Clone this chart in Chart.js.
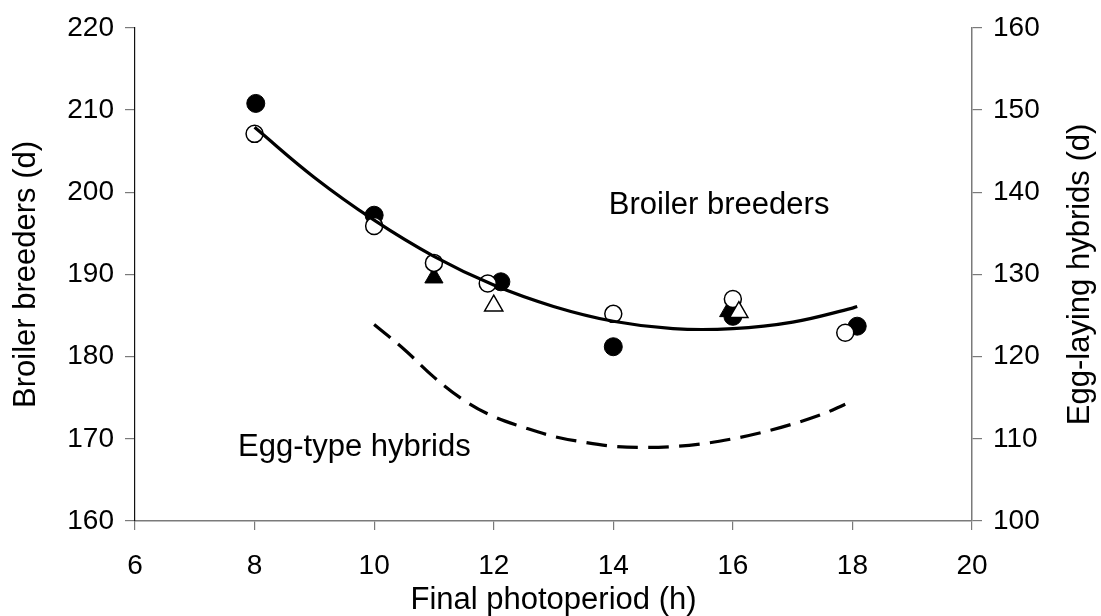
<!DOCTYPE html>
<html>
<head>
<meta charset="utf-8">
<script src="https://cdn.jsdelivr.net/npm/chart.js@4.4.1/dist/chart.umd.min.js"></script>
<style>
    html, body { margin: 0; padding: 0; background: #fff; }
    #wrap { width: 1101px; height: 616px; position: relative; }
</style>
</head>
<body>
<div id="wrap"><canvas id="photoChart"></canvas></div>
<script>
// age at sexual maturity vs final photoperiod
const xTicks = [6, 8, 10, 12, 14, 16, 18, 20];
const leftTicks = [160, 170, 180, 190, 200, 210, 220];
const rightTicks = [100, 110, 120, 130, 140, 150, 160];

// broiler breeders, observed means (left axis)
const filledCircleX = [8.02, 10.0, 12.12, 14.0, 16.0, 18.08];
const filledCircleY = [210.8, 197.2, 189.1, 181.2, 184.9, 183.7];
const openCircleX = [8.0, 10.0, 11.0, 11.9, 14.0, 16.0, 17.88];
const openCircleY = [207.1, 195.9, 191.4, 188.9, 185.2, 187.0, 182.9];
const filledTriX = [11.0, 15.93];
const filledTriY = [189.6, 185.5];
const openTriX = [12.0, 16.1];
const openTriY = [186.2, 185.4];

// fitted response curves
const broilerCurveX = [8.0, 9, 10, 11, 12, 13, 14, 15, 16, 17, 18, 18.08];
const broilerCurveY = [207.9, 201.8, 196.6, 192.2, 188.7, 186.1, 184.3, 183.4, 183.4, 184.2, 185.9, 186.1];
const eggCurveX = [10.0, 10.5, 11, 11.5, 12, 12.5, 13, 13.5, 14, 14.5, 15, 15.5, 16, 16.5, 17, 17.5, 17.88];
const eggCurveY = [123.9, 120.9, 117.5, 114.7, 112.7, 111.4, 110.3, 109.6, 109.1, 108.95, 109.05, 109.4, 110.0, 110.8, 111.8, 113.0, 114.2];

const FONT = "'Liberation Sans', Arial, Helvetica, sans-serif";
const W = 1101, H = 616;
const AREA = { left: 135, right: 972, top: 27, bottom: 521 };

function pts(xs, ys) {
    return xs.map((x, i) => ({ x: x, y: ys[i] }));
}

// free text labels next to the curves + right axis title (reads bottom to top)
const curveLabels = {
    id: 'curveLabels',
    afterDraw(chart) {
        const { ctx, scales, chartArea } = chart;
        ctx.save();
        ctx.fillStyle = '#000';
        ctx.font = `31px ${FONT}`;
        ctx.textAlign = 'center';
        ctx.textBaseline = 'middle';
        ctx.fillText('Broiler breeders', scales.x.getPixelForValue(15.77), scales.y.getPixelForValue(198.4));
        ctx.fillText('Egg-type hybrids', scales.x.getPixelForValue(9.67), scales.y.getPixelForValue(168.9));

        ctx.translate(1080, (chartArea.top + chartArea.bottom) / 2);
        ctx.rotate(-Math.PI / 2);
        ctx.fillText('Egg-laying hybrids (d)', 0, 0);
        ctx.restore();
    }
};

const tickFont = { family: FONT, size: 28 };
const titleFont = { family: FONT, size: 31, lineHeight: 1 };

new Chart(document.getElementById('photoChart'), {
    type: 'scatter',
    data: {
        datasets: [
            {
                label: 'broiler fit',
                data: pts(broilerCurveX, broilerCurveY),
                yAxisID: 'y',
                showLine: true,
                borderColor: '#000',
                borderWidth: 3.2,
                pointRadius: 0,
                tension: 0.4,
                order: 0
            },
            {
                label: 'egg-type fit',
                data: pts(eggCurveX, eggCurveY),
                yAxisID: 'y2',
                showLine: true,
                borderColor: '#000',
                borderWidth: 3.2,
                borderDash: [21, 10],
                pointRadius: 0,
                tension: 0.4,
                order: 0
            },
            {
                label: 'open triangles',
                data: pts(openTriX, openTriY),
                yAxisID: 'y',
                pointStyle: 'triangle',
                pointRadius: 10.5,
                backgroundColor: '#fff',
                borderColor: '#000',
                borderWidth: 1.5,
                order: 1
            },
            {
                label: 'open circles',
                data: pts(openCircleX, openCircleY),
                yAxisID: 'y',
                pointStyle: 'circle',
                pointRadius: 8.5,
                backgroundColor: '#fff',
                borderColor: '#000',
                borderWidth: 1.5,
                order: 2
            },
            {
                label: 'filled triangles',
                data: pts(filledTriX, filledTriY),
                yAxisID: 'y',
                pointStyle: 'triangle',
                pointRadius: 10.5,
                backgroundColor: '#000',
                borderColor: '#000',
                borderWidth: 1,
                order: 3
            },
            {
                label: 'filled circles',
                data: pts(filledCircleX, filledCircleY),
                yAxisID: 'y',
                pointStyle: 'circle',
                pointRadius: 9,
                backgroundColor: '#000',
                borderColor: '#000',
                borderWidth: 1,
                order: 4
            }
        ]
    },
    options: {
        responsive: true,
        maintainAspectRatio: false,
        animation: false,
        events: [],
        layout: { padding: { top: AREA.top, left: 0, right: 0, bottom: 0 } },
        plugins: {
            legend: { display: false },
            tooltip: { enabled: false }
        },
        scales: {
            x: {
                type: 'linear',
                min: xTicks[0],
                max: xTicks[xTicks.length - 1],
                afterBuildTicks: (s) => { s.ticks = xTicks.map(v => ({ value: v })); },
                afterFit: (s) => { s.height = H - AREA.bottom; },
                border: { display: true, color: '#7a7a7a', width: 1.5 },
                grid: { drawOnChartArea: false, drawTicks: true, tickLength: 9, color: '#7a7a7a', lineWidth: 1.2 },
                ticks: { color: '#000', font: tickFont, padding: 19, maxRotation: 0 },
                title: { display: true, text: 'Final photoperiod (h)', color: '#000', font: titleFont, padding: { top: 0, bottom: 0 } }
            },
            y: {
                type: 'linear',
                position: 'left',
                min: leftTicks[0],
                max: leftTicks[leftTicks.length - 1],
                afterBuildTicks: (s) => { s.ticks = leftTicks.map(v => ({ value: v })); },
                afterFit: (s) => { s.width = AREA.left; },
                border: { display: true, color: '#111', width: 1.2 },
                grid: { drawOnChartArea: false, drawTicks: true, tickLength: 10, color: '#7a7a7a', lineWidth: 1.2 },
                ticks: { color: '#000', font: tickFont, padding: 11 },
                title: { display: true, text: 'Broiler breeders (d)', color: '#000', font: titleFont, padding: { top: 11, bottom: 0 } }
            },
            y2: {
                type: 'linear',
                position: 'right',
                min: rightTicks[0],
                max: rightTicks[rightTicks.length - 1],
                afterBuildTicks: (s) => { s.ticks = rightTicks.map(v => ({ value: v })); },
                afterFit: (s) => { s.width = W - AREA.right; },
                border: { display: true, color: '#7a7a7a', width: 1.5 },
                grid: { drawOnChartArea: false, drawTicks: true, tickLength: 10, color: '#7a7a7a', lineWidth: 1.2 },
                ticks: { color: '#000', font: tickFont, padding: 11 },
                title: { display: false }
            }
        }
    },
    plugins: [curveLabels]
});
</script>
</body>
</html>
